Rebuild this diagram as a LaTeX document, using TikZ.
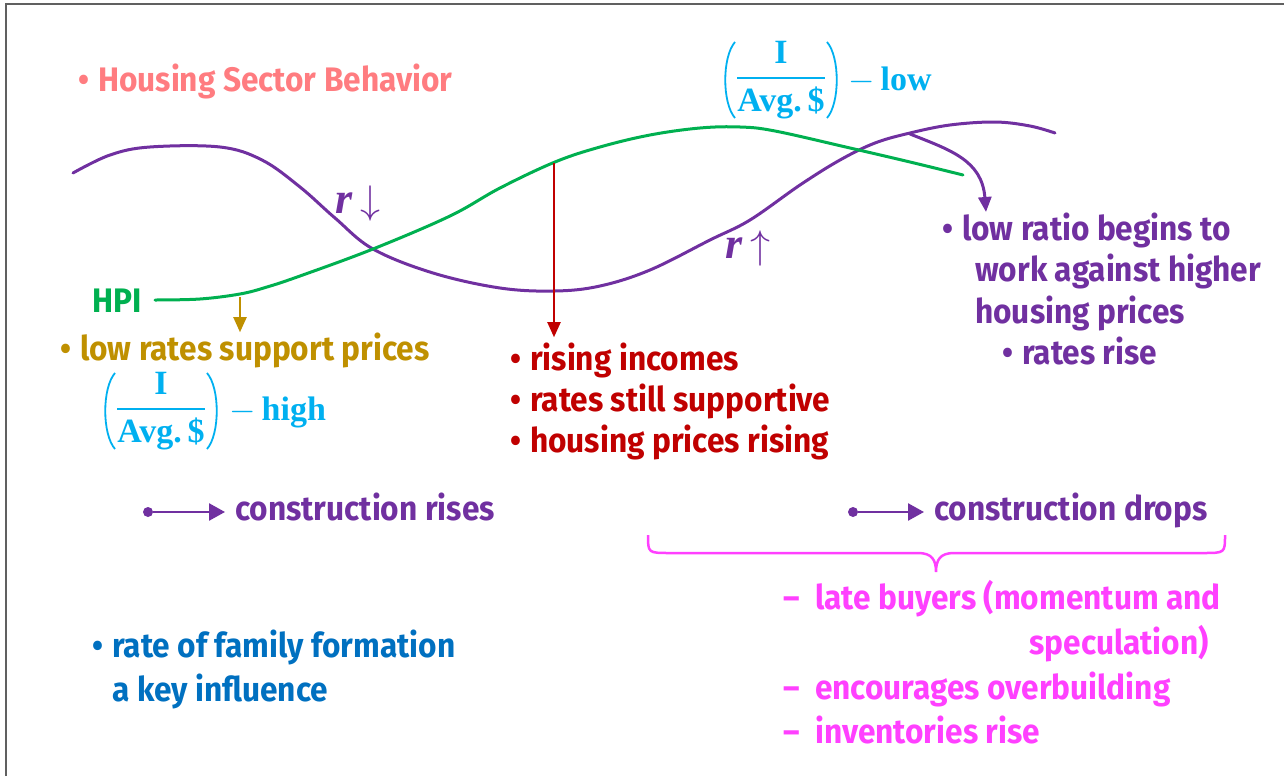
\RequirePackage{fix-cm}
\documentclass[tikz,border=0pt]{standalone}
\usepackage{fontspec}
\newfontfamily\hand{Fira Sans}[FakeStretch=0.93]
\newfontfamily\serifb{Liberation Serif}
\usetikzlibrary{arrows.meta}
\definecolor{salmon}{HTML}{FF7C80}
\definecolor{purp}{HTML}{7030A0}
\definecolor{grn}{HTML}{00B050}
\definecolor{dred}{HTML}{C00000}
\definecolor{gold}{HTML}{BF9000}
\definecolor{cyanb}{HTML}{00B0F0}
\definecolor{blueb}{HTML}{0070C0}
\definecolor{magb}{HTML}{FF40FF}
\definecolor{frame}{HTML}{606060}
\newcommand{\bul}{\llap{\textbullet\hspace{9pt}}}
\newcommand{\dsh}{\llap{\textendash\hspace{15pt}}}
\newcommand{\ratiofrac}{$\displaystyle{\mbox{I}\above 2.5pt\mbox{Avg.\,\$}}$}
\begin{document}
\begin{tikzpicture}[x=1pt,y=-1pt,
  txt/.style={anchor=base west, inner sep=0pt, font=\hand\bfseries\fontsize{34}{40}\selectfont},
  fracnode/.style={inner sep=0pt, text=cyanb, font=\serifb\bfseries\fontsize{34}{36}\selectfont},
  fraclab/.style={anchor=base west, inner sep=0pt, text=cyanb, font=\serifb\bfseries\fontsize{34}{36}\selectfont},
  paren/.style={cyanb, line width=1.8pt},
  rlab/.style={anchor=base west, inner sep=0pt, text=purp},
  curve/.style={line width=3pt, line cap=round},
  dotnode/.style={circle, fill=purp, inner sep=0pt, minimum size=10pt},
  tri/.style={-{Triangle[length=15pt,width=13pt]}},
  bigtri/.style={-{Triangle[length=16pt,width=17pt]}}
]
\path[use as bounding box] (0,0) rectangle (1284,776);
\draw[frame, line width=2pt] (6,776) -- (6,4) -- (1284,4);

% title
\node[txt, text=salmon] (title) at (98,91) {\bul Housing Sector Behavior};

% curves
\draw[curve, purp] plot[smooth, tension=0.6] coordinates {
 (73,173) (110,155) (150,147) (220,147) (262,160) (300,187) (335,218) (373,249)
 (433,273) (500,288) (555,291) (600,286) (650,270) (710,240) (750,220) (800,185)
 (840,160) (875,143) (910,133) (950,125) (995,122) (1030,126) (1055,133)};
\draw[curve, grn] plot[smooth, tension=0.6] coordinates {
 (155,300) (200,299) (240,294) (267,287) (300,276) (373,249) (450,216) (500,188)
 (555,162) (600,147) (650,135) (700,128) (740,127) (775,131) (850,148) (910,162) (963,175)};

% labels on curves
\node[txt, text=grn] (hpi) at (92,312) {HPI};
\node[rlab] (rdown) at (335,213) {{\fontsize{44}{44}\selectfont\serifb\bfseries\itshape r}\hspace{8pt}{\fontsize{40}{40}\selectfont$\downarrow$}};
\node[rlab] (rup) at (725,258) {{\fontsize{44}{44}\selectfont\serifb\bfseries\itshape r}\hspace{8pt}{\fontsize{40}{40}\selectfont$\uparrow$}};

% ratio labels
\node[fracnode] (fraclow) at (781,80) {\ratiofrac};
\draw[paren] ([xshift=-1pt,yshift=-1pt]fraclow.north west) .. controls ([xshift=-14pt,yshift=-16pt]fraclow.north west) and ([xshift=-14pt,yshift=16pt]fraclow.south west) .. ([xshift=-1pt,yshift=1pt]fraclow.south west);
\draw[paren] ([xshift=1pt,yshift=-1pt]fraclow.north east) .. controls ([xshift=14pt,yshift=-16pt]fraclow.north east) and ([xshift=14pt,yshift=16pt]fraclow.south east) .. ([xshift=1pt,yshift=1pt]fraclow.south east);
\node[fraclab] (lowlab) at (848,90) {$-$\hspace{6pt}low};

\node[fracnode] (frachigh) at (161,411) {\ratiofrac};
\draw[paren] ([xshift=-1pt,yshift=-1pt]frachigh.north west) .. controls ([xshift=-14pt,yshift=-16pt]frachigh.north west) and ([xshift=-14pt,yshift=16pt]frachigh.south west) .. ([xshift=-1pt,yshift=1pt]frachigh.south west);
\draw[paren] ([xshift=1pt,yshift=-1pt]frachigh.north east) .. controls ([xshift=14pt,yshift=-16pt]frachigh.north east) and ([xshift=14pt,yshift=16pt]frachigh.south east) .. ([xshift=1pt,yshift=1pt]frachigh.south east);
\node[fraclab] (highlab) at (229,420) {$-$\hspace{6pt}high};

% gold
\node[txt, text=gold] (gold) at (80,360) {\bul low rates support prices};
\coordinate (g1) at (240,297);
\draw[gold, line width=2pt, tri] (g1) -- (g1 |- gold.north);

% red
\node[txt, text=dred] (red1) at (530,370) {\bul rising incomes};
\node[txt, text=dred] (red2) at (530,411) {\bul rates still supportive};
\node[txt, text=dred] (red3) at (530,452) {\bul housing prices rising};
\coordinate (r1) at (554,163);
\draw[dred, line width=2pt, tri] (r1) -- ([yshift=5pt]r1 |- red1.north);

% purple right
\node[txt, text=purp] (lowratio) at (962,240) {\bul low ratio begins to};
\node[txt, text=purp] (work) at (975,281) {work against higher};
\node[txt, text=purp] (hprices) at (975,323) {housing prices};
\node[txt, text=purp] (ratesrise) at (1022,364) {\bul rates rise};
\coordinate (pa) at (910,134);
\coordinate (ptip) at (986,212);
\draw[purp, line width=3pt, line cap=round, tri] (pa) .. controls (950,150) and (982,160) .. (ptip);

% construction
\node[txt, text=purp] (crises) at (235,520) {construction rises};
\node[dotnode] (d1) at (148,512) {};
\draw[purp, line width=2.5pt, bigtri, shorten >=10pt] (d1) -- (d1 -| crises.west);
\node[txt, text=purp] (cdrops) at (934,520) {construction drops};
\node[dotnode] (d2) at (853,512) {};
\draw[purp, line width=2.5pt, bigtri, shorten >=10pt] (d2) -- (d2 -| cdrops.west);

% brace
\coordinate (bl) at (648,535);
\coordinate (bm) at (936,572);
\coordinate (br) at (1225,535);
\draw[magb, line width=2.5pt] (bl) .. controls (648,553) .. (670,553) -- (918,553)
  .. controls (932,553) and (936,560) .. (bm)
  .. controls (936,560) and (940,553) .. (954,553) -- (1203,553)
  .. controls (1225,553) .. (br);

% magenta
\node[txt, text=magb] (late) at (815,609) {\dsh late buyers (momentum and};
\node[txt, text=magb, anchor=base east] (spec) at (1209,654) {speculation)};
\node[txt, text=magb] (enc) at (815,699) {\dsh encourages overbuilding};
\node[txt, text=magb] (inv) at (815,743) {\dsh inventories rise};

% blue
\node[txt, text=blueb] (fam) at (112,657) {\bul rate of family formation};
\node[txt, text=blueb] (key) at (112,701) {a key influence};
\end{tikzpicture}
\end{document}
